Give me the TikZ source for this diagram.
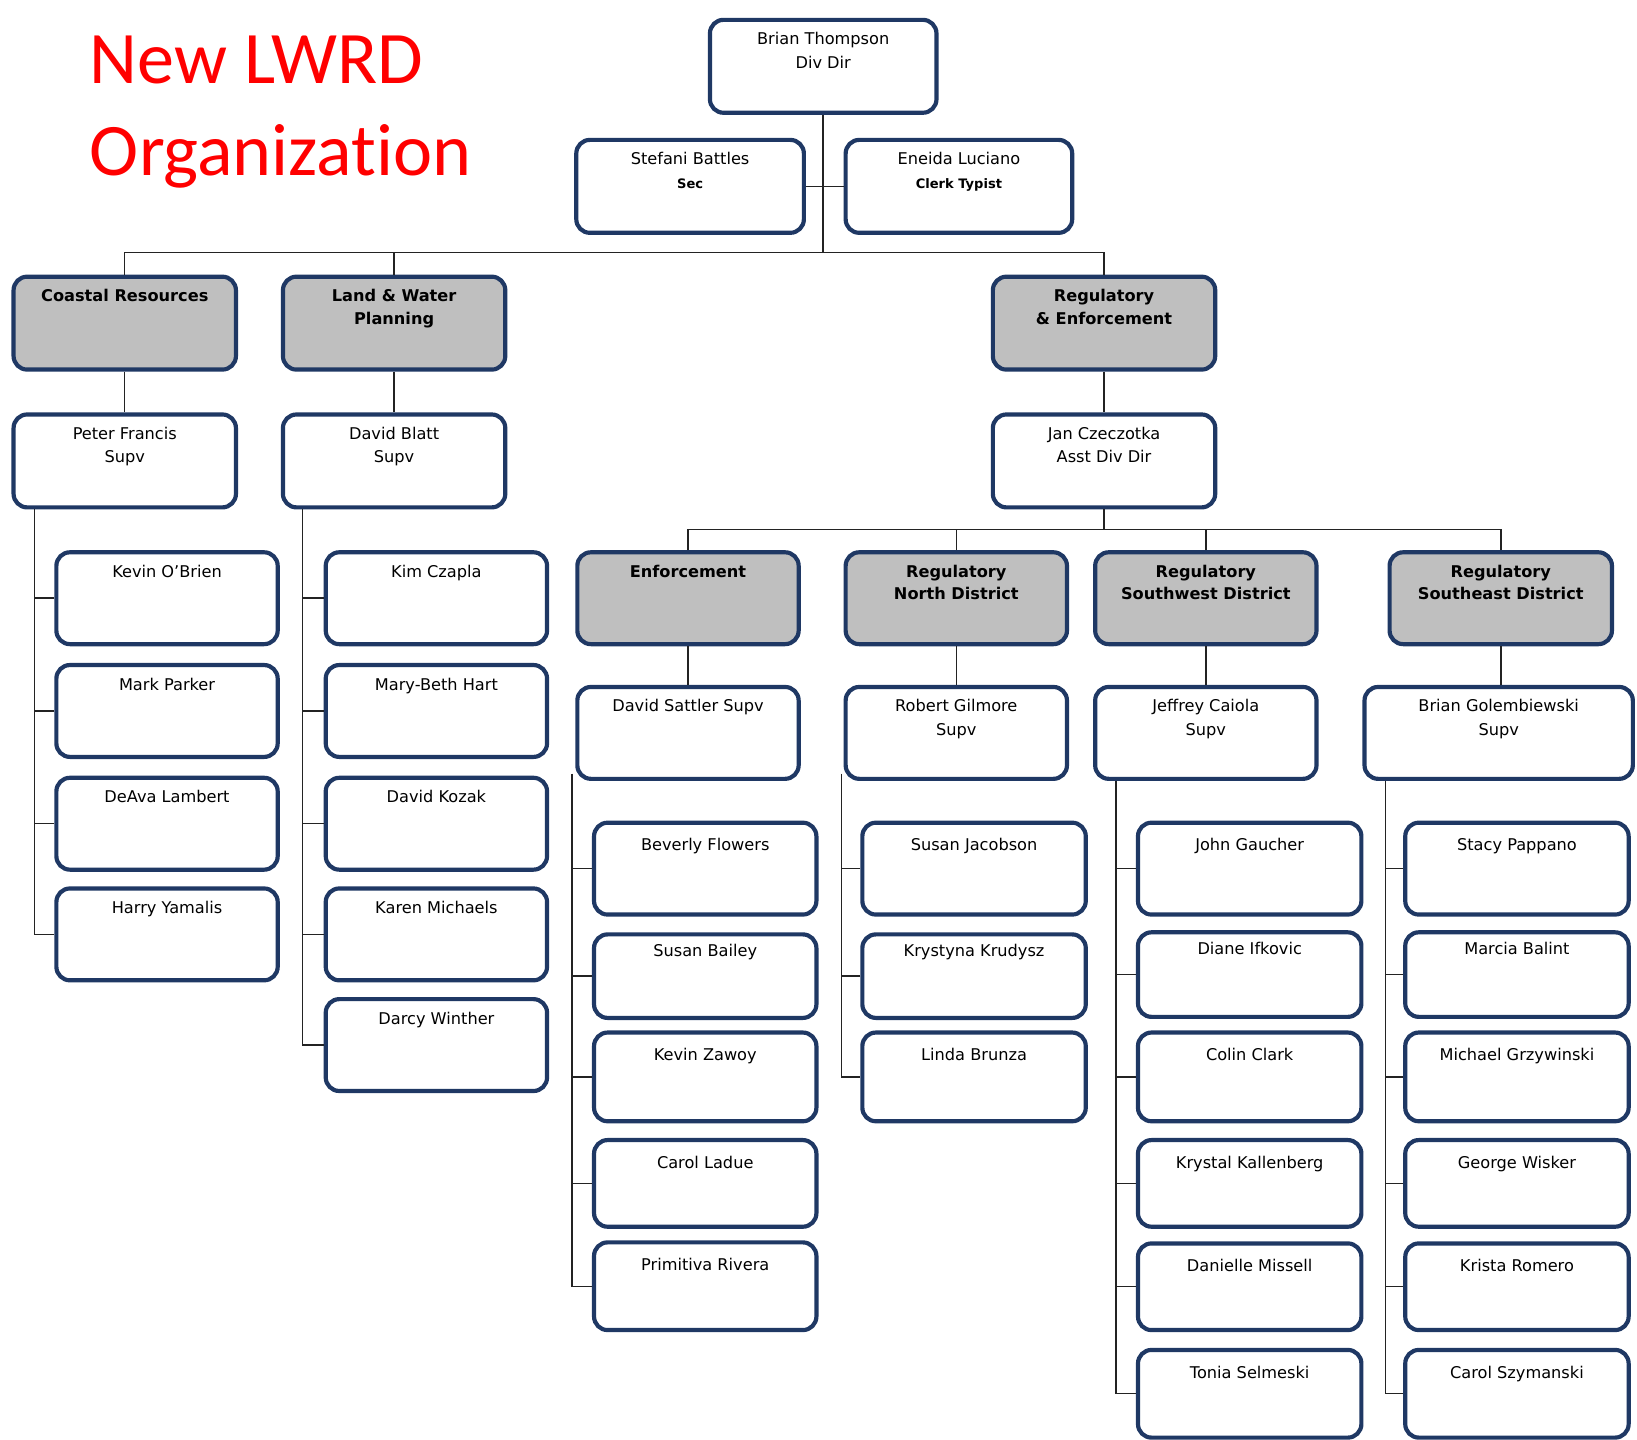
\documentclass[tikz,border=0pt]{standalone}
\usepackage{fontspec}
\setmainfont{DejaVu Sans}
\newfontfamily\titlefont[Ligatures={NoCommon}]{Carlito}
\definecolor{navy}{RGB}{31,56,100}
\definecolor{hdrgray}{RGB}{191,191,191}
\definecolor{linec}{RGB}{35,35,35}
\newcommand\smb[1]{{\bfseries\fontsize{12.5}{14}\selectfont #1}}
\begin{document}
\begin{tikzpicture}[x=1pt,y=-1pt,
  obox/.style={draw=navy, line width=4pt, rounded corners=13pt, fill=white, inner sep=0pt,
               anchor=north west, minimum width=213pt, minimum height=89pt},
  gbox/.style={obox, fill=hdrgray},
  nmbase/.style={anchor=north, align=center, inner sep=0pt, text=black,
             font=\fontsize{15.5}{22.5}\selectfont},
  nm/.style={nmbase, yshift=-14pt},
  nmlow/.style={nmbase, yshift=-17pt},
  nmhi/.style={nmbase, yshift=-11pt},
  hd/.style={nmbase, yshift=-14pt, font=\bfseries\fontsize{15.5}{21.5}\selectfont},
  conn/.style={draw=linec, line width=1.4pt}]
\useasboundingbox (0,0) rectangle (1568,1379);

% title
\node[anchor=north west, inner sep=0pt, align=left, text=red,
      font=\titlefont\fontsize{71}{88}\selectfont] (title) at (86,34) {New LWRD\\Organization};

% top
\node[obox, minimum width=217pt, label={[nm]north:{Brian Thompson\\Div Dir}}] (bt) at (678,17) {};
\node[obox, minimum width=218pt, label={[nm]north:{Stefani Battles\\\smb{Sec}}}] (sb) at (550,132) {};
\node[obox, minimum width=217pt, label={[nm]north:{Eneida Luciano\\\smb{Clerk Typist}}}] (el) at (808,132) {};

% sections
\node[gbox, label={[hd]north:{Coastal Resources}}] (cr) at (11,263) {};
\node[gbox, label={[hd]north:{Land \& Water\\Planning}}] (lw) at (269,263) {};
\node[gbox, label={[hd]north:{Regulatory\\\& Enforcement}}] (re) at (949,263) {};

\node[obox, label={[nm]north:{Peter Francis\\Supv}}] (pf) at (11,395) {};
\node[obox, label={[nm]north:{David Blatt\\Supv}}] (dbl) at (269,395) {};
\node[obox, label={[nm]north:{Jan Czeczotka\\Asst Div Dir}}] (jc) at (949,395) {};

% coastal staff
\node[obox, minimum width=212pt, minimum height=88pt, label={[nm]north:{Kevin O{\char"27}Brien}}] (ko) at (52,527) {};
\node[obox, minimum width=212pt, minimum height=88pt, label={[nm]north:{Mark Parker}}] (mp) at (52,635) {};
\node[obox, minimum width=212pt, minimum height=88pt, label={[nm]north:{DeAva Lambert}}] (dl) at (52,743) {};
\node[obox, minimum width=212pt, minimum height=88pt, label={[nm]north:{Harry Yamalis}}] (hy) at (52,849) {};

% land & water staff
\node[obox, minimum width=212pt, minimum height=88pt, label={[nm]north:{Kim Czapla}}] (kc) at (310,527) {};
\node[obox, minimum width=212pt, minimum height=88pt, label={[nm]north:{Mary-Beth Hart}}] (mbh) at (310,635) {};
\node[obox, minimum width=212pt, minimum height=88pt, label={[nm]north:{David Kozak}}] (dk) at (310,743) {};
\node[obox, minimum width=212pt, minimum height=88pt, label={[nm]north:{Karen Michaels}}] (km) at (310,849) {};
\node[obox, minimum width=212pt, minimum height=88pt, label={[nm]north:{Darcy Winther}}] (dw) at (310,955) {};

% regulatory units
\node[gbox, minimum width=212pt, minimum height=88pt, label={[hd]north:{Enforcement}}] (enf) at (551,527) {};
\node[gbox, minimum width=212pt, minimum height=88pt, label={[hd]north:{Regulatory\\North District}}] (rn) at (808,527) {};
\node[gbox, minimum width=212pt, minimum height=88pt, label={[hd]north:{Regulatory\\Southwest District}}] (rsw) at (1047,527) {};
\node[gbox, minimum width=213pt, minimum height=88pt, label={[hd]north:{Regulatory\\Southeast District}}] (rse) at (1329,527) {};

\node[obox, minimum width=212pt, minimum height=88pt, label={[nm]north:{David Sattler Supv}}] (ds) at (551,656) {};
\node[obox, minimum width=212pt, minimum height=88pt, label={[nm]north:{Robert Gilmore\\Supv}}] (rg) at (808,656) {};
\node[obox, minimum width=212pt, minimum height=88pt, label={[nm]north:{Jeffrey Caiola\\Supv}}] (jca) at (1047,656) {};
\node[obox, minimum width=257pt, minimum height=88pt, label={[nm]north:{Brian Golembiewski\\Supv}}] (bgo) at (1305,656) {};

% enforcement staff
\node[obox, minimum height=88pt, label={[nmlow]north:{Beverly Flowers}}] (bf) at (567,786) {};
\node[obox, minimum height=80pt, label={[nmhi]north:{Susan Bailey}}] (sba) at (567,893) {};
\node[obox, minimum height=85pt, label={[nmlow]north:{Kevin Zawoy}}] (kz) at (567,987) {};
\node[obox, minimum height=83pt, label={[nmlow]north:{Carol Ladue}}] (cl) at (567,1090) {};
\node[obox, minimum height=84pt, label={[nmlow]north:{Primitiva Rivera}}] (pr) at (567,1188) {};

% north staff
\node[obox, minimum width=214pt, minimum height=88pt, label={[nmlow]north:{Susan Jacobson}}] (sj) at (824,786) {};
\node[obox, minimum width=214pt, minimum height=80pt, label={[nmhi]north:{Krystyna Krudysz}}] (kk) at (824,893) {};
\node[obox, minimum width=214pt, minimum height=85pt, label={[nmlow]north:{Linda Brunza}}] (lb) at (824,987) {};

% southwest staff
\node[obox, minimum width=214pt, minimum height=88pt, label={[nmlow]north:{John Gaucher}}] (jg) at (1088,786) {};
\node[obox, minimum width=214pt, minimum height=81pt, label={[nmhi]north:{Diane Ifkovic}}] (di) at (1088,891) {};
\node[obox, minimum width=214pt, minimum height=85pt, label={[nmlow]north:{Colin Clark}}] (cc) at (1088,987) {};
\node[obox, minimum width=214pt, minimum height=83pt, label={[nmlow]north:{Krystal Kallenberg}}] (kka) at (1088,1090) {};
\node[obox, minimum width=214pt, minimum height=83pt, label={[nmlow]north:{Danielle Missell}}] (dm) at (1088,1189) {};
\node[obox, minimum width=214pt, minimum height=84pt, label={[nmlow]north:{Tonia Selmeski}}] (ts) at (1088,1291) {};

% southeast staff
\node[obox, minimum width=214pt, minimum height=88pt, label={[nmlow]north:{Stacy Pappano}}] (sp) at (1344,786) {};
\node[obox, minimum width=214pt, minimum height=81pt, label={[nmhi]north:{Marcia Balint}}] (mb) at (1344,891) {};
\node[obox, minimum width=214pt, minimum height=85pt, label={[nmlow]north:{Michael Grzywinski}}] (mg) at (1344,987) {};
\node[obox, minimum width=214pt, minimum height=83pt, label={[nmlow]north:{George Wisker}}] (gw) at (1344,1090) {};
\node[obox, minimum width=214pt, minimum height=83pt, label={[nmlow]north:{Krista Romero}}] (kr) at (1344,1189) {};
\node[obox, minimum width=214pt, minimum height=84pt, label={[nmlow]north:{Carol Szymanski}}] (csz) at (1344,1291) {};

% connectors
\coordinate (bus) at (789,242);
\draw[conn] (bt.south) -- (bt.south |- bus);
\draw[conn] (sb.east) -- (el.west);
\draw[conn] (cr.north) |- (bus) -| (re.north);
\draw[conn] (lw.north) -- (lw.north |- bus);
\draw[conn] (cr.south) -- (pf.north);
\draw[conn] (lw.south) -- (dbl.north);
\draw[conn] (re.south) -- (jc.north);

\coordinate (jbus) at (1058,507);
\draw[conn] (jc.south) -- (jc.south |- jbus);
\draw[conn] (enf.north) |- (jbus) -| (rse.north);
\draw[conn] (rn.north) -- (rn.north |- jbus);
\draw[conn] (rsw.north) -- (rsw.north |- jbus);
\draw[conn] (enf.south) -- (ds.north);
\draw[conn] (rn.south) -- (rg.north);
\draw[conn] (rsw.south) -- (jca.north);
\draw[conn] (rse.south) -- (rse.south |- bgo.north);

\coordinate (crb) at (33,488);
\draw[conn] (crb) |- (hy.west);
\foreach \c in {ko,mp,dl} \draw[conn] (\c.west) -- (\c.west -| crb);
\coordinate (lwb) at (290,488);
\draw[conn] (lwb) |- (dw.west);
\foreach \c in {kc,mbh,dk,km} \draw[conn] (\c.west) -- (\c.west -| lwb);
\coordinate (enb) at (548,741);
\draw[conn] (enb) |- (pr.west);
\foreach \c in {bf,sba,kz,cl} \draw[conn] (\c.west) -- (\c.west -| enb);
\coordinate (rnb) at (806,741);
\draw[conn] (rnb) |- (lb.west);
\foreach \c in {sj,kk} \draw[conn] (\c.west) -- (\c.west -| rnb);
\coordinate (swb) at (1069,748);
\draw[conn] (swb) |- (ts.west);
\foreach \c in {jg,di,cc,kka,dm} \draw[conn] (\c.west) -- (\c.west -| swb);
\coordinate (seb) at (1327,748);
\draw[conn] (seb) |- (csz.west);
\foreach \c in {sp,mb,mg,gw,kr} \draw[conn] (\c.west) -- (\c.west -| seb);
\end{tikzpicture}
\end{document}
